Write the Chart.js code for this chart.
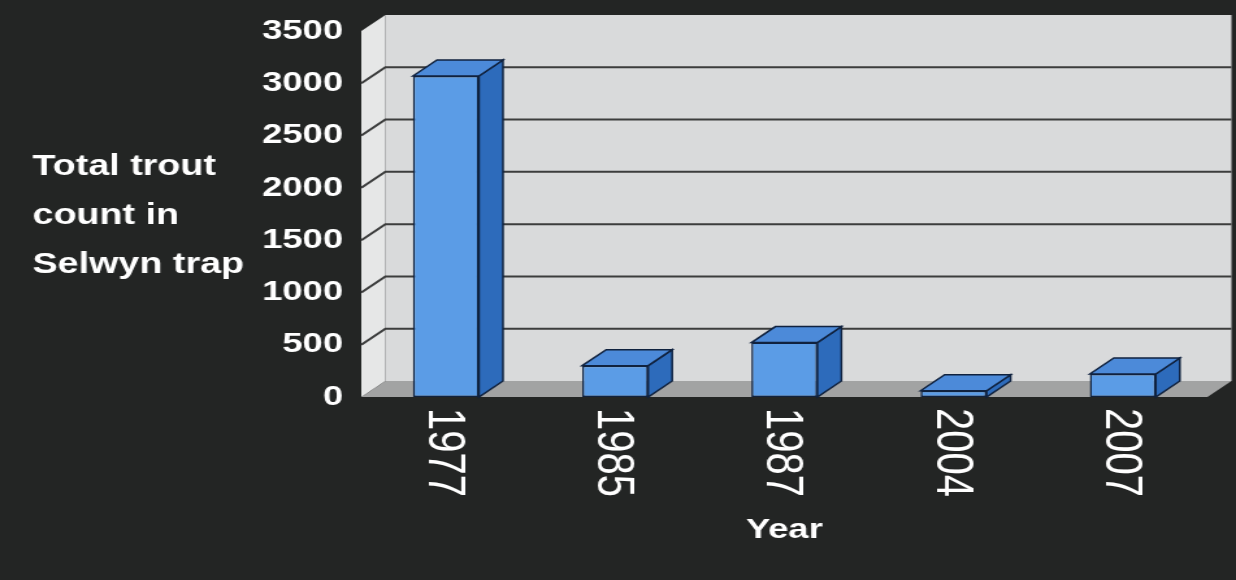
<!DOCTYPE html>
<html>
<head>
<meta charset="utf-8">
<script src="https://cdn.jsdelivr.net/npm/chart.js@4.4.1/dist/chart.umd.min.js"></script>
<style>
  html, body { margin: 0; padding: 0; background: #232524; overflow: hidden; }
  #wrap { width: 1236px; height: 580px; }
  /* the original picture is stretched sideways, so the canvas is too */
  #chart { display: block; transform: scaleX(1.29968); transform-origin: 0 0; }
</style>
</head>
<body>
<div id="wrap"><canvas id="chart" width="951" height="580"></canvas></div>
<script>
// datos del gráfico
const years = ['1977', '1985', '1987', '2004', '2007'];
const troutCount = [3070, 300, 520, 60, 220];
const yTicks = [0, 500, 1000, 1500, 2000, 2500, 3000, 3500];
const yTitleLines = ['Total trout', 'count in', 'Selwyn trap'];
const xTitle = 'Year';

// profundidad del efecto 3D
const DX = 18.5, DY = -16;

const frontColor = '#5b9ce6';
const sideColor = '#2d6bbb';
const topColor = '#4c8ad9';
const edgeColor = '#10223f';

function poly(ctx, pts, fill, stroke) {
    ctx.beginPath();
    ctx.moveTo(pts[0][0], pts[0][1]);
    for (let i = 1; i < pts.length; i++) ctx.lineTo(pts[i][0], pts[i][1]);
    ctx.closePath();
    ctx.fillStyle = fill;
    ctx.fill();
    if (stroke) {
        ctx.strokeStyle = stroke;
        ctx.lineWidth = 1.5;
        ctx.stroke();
    }
}

// paredes, suelo y líneas de la cuadrícula
const wallsPlugin = {
    id: 'walls',
    beforeDraw(chart) {
        const ctx = chart.ctx;
        ctx.save();
        ctx.fillStyle = '#232524';
        ctx.fillRect(0, 0, chart.width, chart.height);
        ctx.restore();
    },
    beforeDatasetsDraw(chart) {
        const ctx = chart.ctx;
        const a = chart.chartArea;
        const y = chart.scales.y;
        ctx.save();
        // pared del fondo
        poly(ctx, [[a.left + DX, a.top + DY], [a.right + DX, a.top + DY], [a.right + DX, a.bottom + DY], [a.left + DX, a.bottom + DY]], '#d9dadb');
        // pared lateral
        poly(ctx, [[a.left, a.top], [a.left + DX, a.top + DY], [a.left + DX, a.bottom + DY], [a.left, a.bottom]], '#e6e7e7');
        // suelo
        poly(ctx, [[a.left, a.bottom], [a.left + DX, a.bottom + DY], [a.right + DX, a.bottom + DY], [a.right, a.bottom]], '#a2a3a3');
        // cuadrícula
        ctx.strokeStyle = '#3c3d3d';
        ctx.lineWidth = 2;
        yTicks.forEach(v => {
            if (v === 0 || v === 3500) return;
            const py = y.getPixelForValue(v);
            ctx.beginPath();
            ctx.moveTo(a.left, py);
            ctx.lineTo(a.left + DX, py + DY);
            ctx.lineTo(a.right + DX, py + DY);
            ctx.stroke();
        });
        ctx.restore();
    },
    afterDatasetsDraw(chart) {
        const ctx = chart.ctx;
        const meta = chart.getDatasetMeta(0);
        ctx.save();
        meta.data.forEach(bar => {
            const p = bar.getProps(['x', 'y', 'base', 'width'], true);
            const l = p.x - p.width / 2, r = p.x + p.width / 2;
            const t = p.y, b = p.base;
            // cara lateral y superior de cada barra
            poly(ctx, [[r, t], [r + DX, t + DY], [r + DX, b + DY], [r, b]], sideColor, edgeColor);
            poly(ctx, [[l, t], [l + DX, t + DY], [r + DX, t + DY], [r, t]], topColor, edgeColor);
        });
        // etiquetas de los años, giradas
        const x = chart.scales.x;
        ctx.fillStyle = '#ffffff';
        ctx.font = '40px "Liberation Sans", Arial, sans-serif';
        ctx.textAlign = 'left';
        ctx.textBaseline = 'middle';
        years.forEach((yr, i) => {
            ctx.save();
            ctx.translate(x.getPixelForValue(i) - 2, 408);
            ctx.rotate(Math.PI / 2);
            ctx.fillText(yr, 0, 0);
            ctx.restore();
        });
        // título del eje Y, horizontal
        ctx.font = 'bold 29px "Liberation Sans", Arial, sans-serif';
        ctx.textAlign = 'left';
        const lineY = [167, 216, 265];
        yTitleLines.forEach((line, i) => ctx.fillText(line, 25, lineY[i]));
        ctx.restore();
    }
};

const ctx = document.getElementById('chart').getContext('2d');
new Chart(ctx, {
    type: 'bar',
    data: {
        labels: years,
        datasets: [{
            label: 'Total trout count',
            data: troutCount,
            backgroundColor: frontColor,
            borderColor: edgeColor,
            borderWidth: 1.5,
            borderSkipped: false,
            barPercentage: 0.39,
            categoryPercentage: 1
        }]
    },
    options: {
        responsive: false,
        animation: false,
        layout: { padding: { top: 31, right: 22, left: 0, bottom: 0 } },
        plugins: {
            legend: { display: false },
            tooltip: { enabled: false }
        },
        scales: {
            x: {
                grid: { display: false },
                border: { display: false },
                ticks: { display: false },
                title: {
                    display: true,
                    text: xTitle,
                    color: '#ffffff',
                    font: { family: '"Liberation Sans", Arial, sans-serif', size: 28, weight: 'bold' },
                    padding: { top: 0, bottom: 33 }
                },
                afterFit: (scale) => { scale.height = 183; }
            },
            y: {
                min: 0,
                max: 3500,
                afterBuildTicks: (scale) => { scale.ticks = yTicks.map(v => ({ value: v })); },
                grid: { display: false, drawTicks: false },
                border: { display: false },
                ticks: {
                    color: '#ffffff',
                    padding: 14,
                    callback: (v) => String(v),
                    font: { family: '"Liberation Sans", Arial, sans-serif', size: 28, weight: 'bold' }
                },
                afterFit: (scale) => { scale.width = 278; }
            }
        }
    },
    plugins: [wallsPlugin]
});
</script>
</body>
</html>
